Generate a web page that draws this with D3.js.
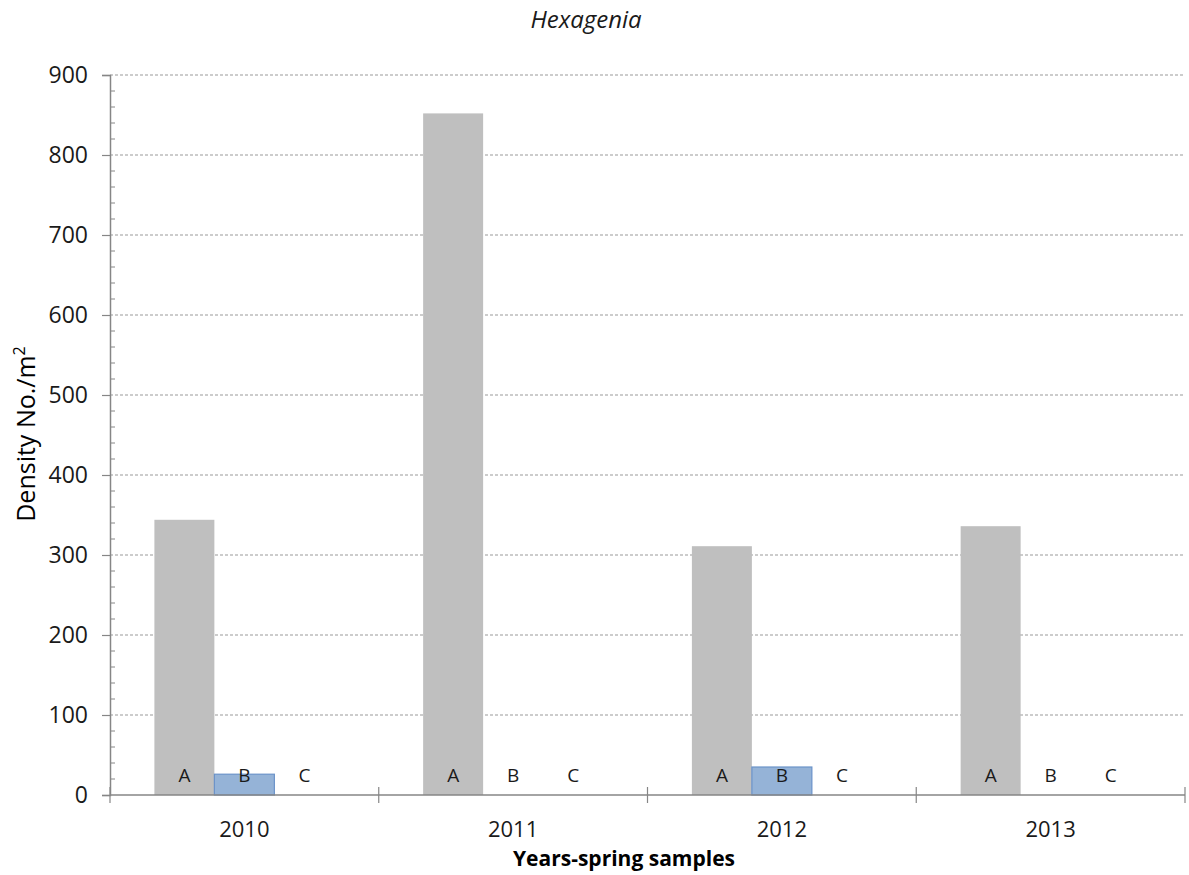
<!DOCTYPE html>
<html>
<head>
<meta charset="utf-8">
<script src="https://cdn.jsdelivr.net/npm/d3@7"></script>
<style>
  html, body { margin: 0; padding: 0; background: #fff; }
  svg { display: block; }
</style>
</head>
<body>
<svg id="chart" width="1189" height="875"></svg>
<script>
const years = ["2010", "2011", "2012", "2013"];
const sites = ["A", "B", "C"];
const valuesA = [344, 852, 311, 336];
const valuesB = [26, 0, 35, 0];
const valuesC = [0, 0, 0, 0];
const yTicks = [0, 100, 200, 300, 400, 500, 600, 700, 800, 900];
const titleText = "Hexagenia";
const yLabel = "Density No./m";
const xLabel = "Years-spring samples";

(function () {
const seriesValues = { A: valuesA, B: valuesB, C: valuesC };
const colors = { A: "#bfbfbf", B: "#95b3d7", C: "#ffffff" };
const strokes = { A: "none", B: "#6b93c9", C: "none" };

const svg = d3.select("#chart");
const mLeft = 110, mRight = 1185, mTop = 75, mBottom = 795;
const font = "'Open Sans', 'DejaVu Sans', sans-serif";

const x0 = d3.scaleBand().domain(years).range([mLeft, mRight]).paddingInner(0).paddingOuter(0);
const x1 = d3.scaleBand().domain(sites).range([0, x0.bandwidth()]).paddingInner(0).paddingOuter(0.74);
const y = d3.scaleLinear().domain([0, 900]).range([mBottom, mTop]);

// gridlines
svg.append("g").selectAll("line").data(yTicks.filter(d => d > 0)).join("line")
  .attr("x1", mLeft).attr("x2", mRight)
  .attr("y1", d => y(d)).attr("y2", d => y(d))
  .attr("stroke", "#9a9a9a").attr("stroke-width", 1.2)
  .attr("stroke-dasharray", "3,2");

// bars
const groups = svg.append("g").selectAll("g").data(years).join("g")
  .attr("transform", d => `translate(${x0(d)},0)`);

groups.selectAll("rect").data((yr, i) => sites.map(s => ({ s, v: seriesValues[s][i] })))
  .join("rect")
  .attr("x", d => x1(d.s))
  .attr("width", x1.bandwidth())
  .attr("y", d => y(d.v))
  .attr("height", d => y(0) - y(d.v))
  .attr("fill", d => colors[d.s])
  .attr("stroke", d => d.v > 0 ? strokes[d.s] : "none")
  .attr("stroke-width", 1.2);

groups.selectAll("text").data(sites).join("text")
  .attr("x", d => x1(d) + x1.bandwidth() / 2)
  .attr("y", y(0) - 13)
  .attr("text-anchor", "middle")
  .attr("font-family", font)
  .attr("font-size", 19)
  .attr("fill", "#1a1a1a")
  .text(d => d);

// y axis
const yAxis = d3.axisLeft(y).tickValues(yTicks).tickSize(8).tickPadding(14);
const ya = svg.append("g").attr("transform", `translate(${mLeft},0)`).call(yAxis);
ya.select(".domain").attr("stroke", "#868686").attr("stroke-width", 1.5);
ya.selectAll(".tick line").attr("stroke", "#868686").attr("stroke-width", 1.2);
ya.selectAll(".tick text").attr("font-family", font).attr("font-size", 23).attr("fill", "#1a1a1a");

// minor ticks
const minor = d3.range(0, 901, 20).filter(d => d % 100 !== 0);
svg.append("g").selectAll("line").data(minor).join("line")
  .attr("x1", mLeft).attr("x2", mLeft + 5)
  .attr("y1", d => y(d)).attr("y2", d => y(d))
  .attr("stroke", "#868686").attr("stroke-width", 1);

// x axis
svg.append("line").attr("x1", mLeft).attr("x2", mRight).attr("y1", y(0)).attr("y2", y(0))
  .attr("stroke", "#868686").attr("stroke-width", 1.5);
const bounds = years.map(d => x0(d)).concat([x0(years[years.length - 1]) + x0.bandwidth()]);
svg.append("g").selectAll("line").data(bounds).join("line")
  .attr("x1", d => d).attr("x2", d => d)
  .attr("y1", y(0) - 8).attr("y2", y(0) + 8)
  .attr("stroke", "#868686").attr("stroke-width", 1.2);
svg.append("g").selectAll("text").data(years).join("text")
  .attr("x", d => x0(d) + x0.bandwidth() / 2)
  .attr("y", 837)
  .attr("text-anchor", "middle")
  .attr("font-family", font).attr("font-size", 22).attr("fill", "#1a1a1a")
  .text(d => d);

// title
svg.append("text").attr("x", 586).attr("y", 28).attr("text-anchor", "middle")
  .attr("font-family", font).attr("font-size", 24).attr("font-style", "italic").attr("fill", "#1a1a1a")
  .text(titleText);

// y label
const yl = svg.append("text").attr("transform", "translate(35,434) rotate(-90)")
  .attr("text-anchor", "middle")
  .attr("font-family", font).attr("font-size", 25).attr("fill", "#000");
yl.append("tspan").text(yLabel);
yl.append("tspan").attr("font-size", 16).attr("dy", -10).text("2");

// x label
svg.append("text").attr("x", 624).attr("y", 866).attr("text-anchor", "middle")
  .attr("font-family", font).attr("font-size", 21).attr("font-weight", "bold").attr("fill", "#000")
  .text(xLabel);
})();
</script>
</body>
</html>
